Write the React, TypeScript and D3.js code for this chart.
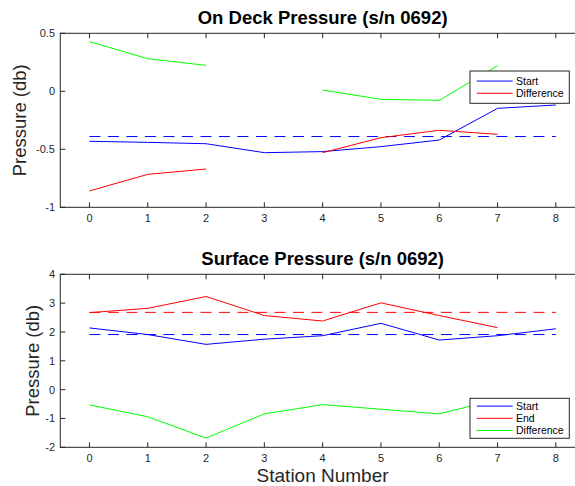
import React from "react";
import * as d3 from "d3";

const stations = [0, 1, 2, 3, 4, 5, 6, 7, 8];

// On Deck Pressure
const deckStart = [-0.431, -0.44, -0.452, -0.529, -0.52, -0.477, -0.42, -0.147, -0.118];
const deckEnd = [-0.859, -0.716, -0.67, null, -0.529, -0.4, -0.336, -0.371, null];
const deckDiff = [0.428, 0.281, 0.224, null, 0.011, -0.069, -0.078, 0.221, null];
const deckStartMean = -0.39;
const deckLegend = ["Start", "Difference"];
const deckYTicks = [-1, -0.5, 0, 0.5];

// Surface Pressure
const surfStart = [2.14, 1.91, 1.57, 1.75, 1.87, 2.3, 1.72, 1.87, 2.11];
const surfEnd = [2.67, 2.82, 3.23, 2.57, 2.38, 3.01, 2.57, 2.15, null];
const surfDiff = [-0.53, -0.94, -1.68, -0.84, -0.52, -0.68, -0.84, -0.34, null];
const surfStartMean = 1.91;
const surfEndMean = 2.68;
const surfLegend = ["Start", "End", "Difference"];
const surfYTicks = [-2, -1, 0, 1, 2, 3, 4];

const BLUE = "#0000ff";
const RED = "#ff0000";
const GREEN = "#00ff00";
const AX = "#262626";
const FONT = "'Liberation Sans', Arial, Helvetica, sans-serif";

const x = d3.scaleLinear().domain([-0.5, 8.5]).range([60.3, 585]);

type Series = { values: (number | null)[]; color: string };

function Panel(props: {
  title: string;
  yDomain: [number, number];
  yRange: [number, number];
  yTicks: number[];
  series: Series[];
  means: { value: number; color: string }[];
  legend: { labels: string[]; colors: string[]; box: [number, number, number, number] };
  titleY: number;
  tickLabelY: number;
  yLabelX: number;
}) {
  const y = d3.scaleLinear().domain(props.yDomain).range(props.yRange);
  const [x0, x1] = x.range();
  const [yb, yt] = props.yRange;
  const line = d3
    .line<number | null>()
    .defined((d) => d != null)
    .x((_, i) => x(stations[i]))
    .y((d) => y(d as number));
  const fmt = (v: number) => String(v);
  const [lx, ly, lw, lh] = props.legend.box;
  const n = props.legend.labels.length;
  const rowH = 12.2;
  const firstY = ly + lh / 2 - ((n - 1) * rowH) / 2;
  return (
    <g>
      <rect x={x0} y={yt} width={x1 - x0} height={yb - yt} fill="white" />
      {props.means.map((m, i) => (
        <line
          key={"m" + i}
          x1={x(0)}
          x2={x(8)}
          y1={y(m.value)}
          y2={y(m.value)}
          stroke={m.color}
          strokeWidth={1}
          strokeDasharray="11,7.5"
        />
      ))}
      {props.series.map((s, i) => (
        <path key={"s" + i} d={line(s.values) || ""} fill="none" stroke={s.color} strokeWidth={1} />
      ))}
      <rect x={x0} y={yt} width={x1 - x0} height={yb - yt} fill="none" stroke={AX} strokeWidth={1} />
      {stations.map((s) => (
        <g key={"xt" + s}>
          <line x1={x(s)} x2={x(s)} y1={yb} y2={yb - 5} stroke={AX} />
          <line x1={x(s)} x2={x(s)} y1={yt} y2={yt + 5} stroke={AX} />
          <text x={x(s)} y={props.tickLabelY} textAnchor="middle" fontSize={11} fill={AX} fontFamily={FONT}>
            {s}
          </text>
        </g>
      ))}
      {props.yTicks.map((t) => (
        <g key={"yt" + t}>
          <line x1={x0} x2={x0 + 5} y1={y(t)} y2={y(t)} stroke={AX} />
          <line x1={x1} x2={x1 - 5} y1={y(t)} y2={y(t)} stroke={AX} />
          <text x={55} y={y(t) + 4} textAnchor="end" fontSize={11} fill={AX} fontFamily={FONT}>
            {fmt(t)}
          </text>
        </g>
      ))}
      <text
        x={(x0 + x1) / 2}
        y={props.titleY}
        textAnchor="middle"
        fontSize={18.5}
        fontWeight="bold"
        fill="#000"
        fontFamily={FONT}
      >
        {props.title}
      </text>
      <text
        transform={`translate(${props.yLabelX},${(yt + yb) / 2}) rotate(-90)`}
        textAnchor="middle"
        fontSize={18.5}
        fill={AX}
        fontFamily={FONT}
      >
        Pressure (db)
      </text>
      <rect x={lx} y={ly} width={lw} height={lh} fill="white" stroke={AX} strokeWidth={1} />
      {props.legend.labels.map((lab, i) => (
        <g key={"lg" + i}>
          <line
            x1={lx + 6.7}
            x2={lx + 42.7}
            y1={firstY + i * rowH}
            y2={firstY + i * rowH}
            stroke={props.legend.colors[i]}
            strokeWidth={1}
          />
          <text x={lx + 46} y={firstY + i * rowH + 3.7} fontSize={10.5} fill="#000" fontFamily={FONT}>
            {lab}
          </text>
        </g>
      ))}
    </g>
  );
}

export default function App() {
  return (
    <svg
      width={575}
      height={486}
      style={{ position: "absolute", left: 0, top: 0, background: "white" }}
    >
      <rect x={0} y={0} width={575} height={486} fill="white" />
      <Panel
        title="On Deck Pressure (s/n 0692)"
        yDomain={[-1, 0.5]}
        yRange={[207.3, 33.3]}
        yTicks={deckYTicks}
        series={[
          { values: deckStart, color: BLUE },
          { values: deckEnd, color: RED },
          { values: deckDiff, color: GREEN },
        ]}
        means={[{ value: deckStartMean, color: BLUE }]}
        legend={{ labels: deckLegend, colors: [BLUE, RED], box: [470, 71, 99.3, 32.3] }}
        titleY={24}
        tickLabelY={222}
        yLabelX={26}
      />
      <Panel
        title="Surface Pressure (s/n 0692)"
        yDomain={[-2, 4]}
        yRange={[447.3, 274.3]}
        yTicks={surfYTicks}
        series={[
          { values: surfStart, color: BLUE },
          { values: surfEnd, color: RED },
          { values: surfDiff, color: GREEN },
        ]}
        means={[
          { value: surfStartMean, color: BLUE },
          { value: surfEndMean, color: RED },
        ]}
        legend={{ labels: surfLegend, colors: [BLUE, RED, GREEN], box: [470, 398.3, 99.3, 40] }}
        titleY={265}
        tickLabelY={462}
        yLabelX={39}
      />
      <text x={322.6} y={481.5} textAnchor="middle" fontSize={19} fill={AX} fontFamily={FONT}>
        Station Number
      </text>
    </svg>
  );
}
